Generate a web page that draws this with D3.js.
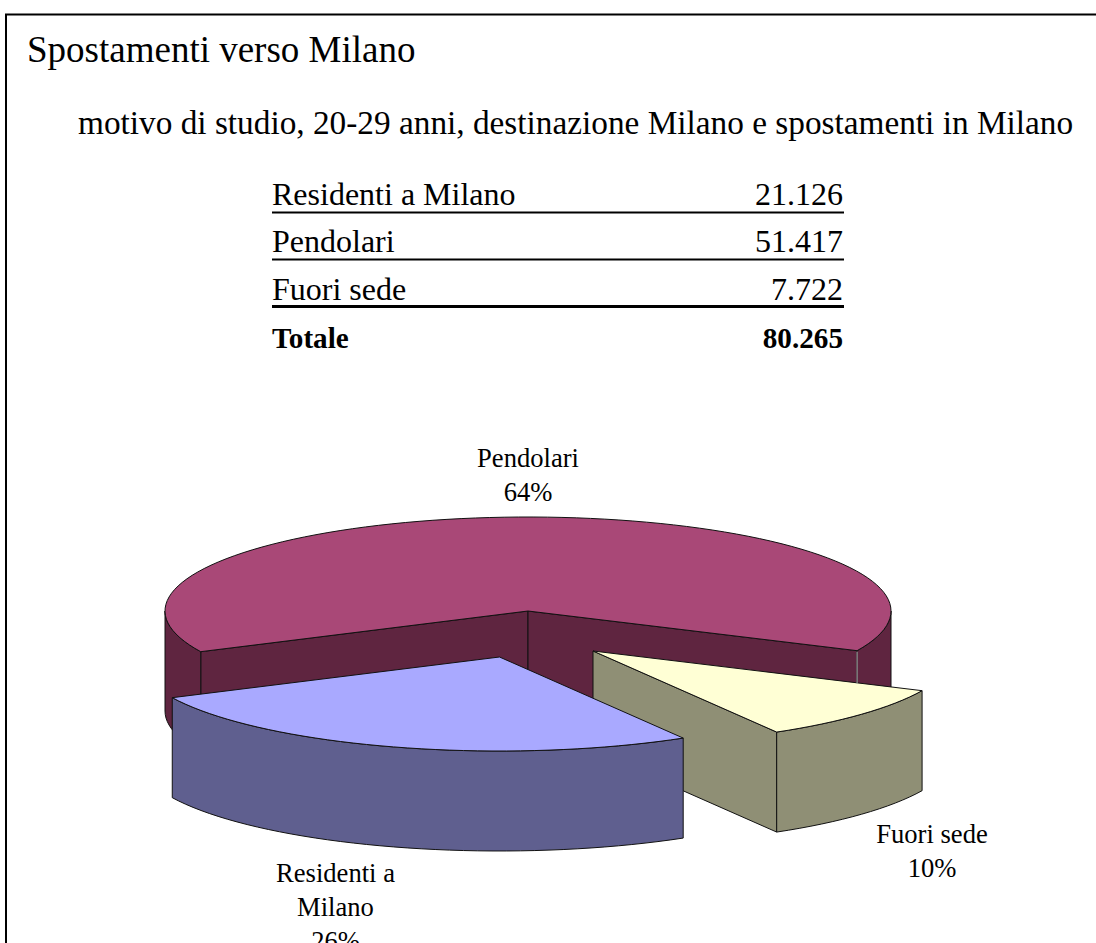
<!DOCTYPE html>
<html>
<head>
    <meta charset="UTF-8" />
    <title>Spostamenti verso Milano</title>
    <script src="https://d3js.org/d3.v7.min.js"></script>
    <style>
    html, body { margin: 0; padding: 0; background: #fff; overflow: hidden; }
    svg { display: block; }
    text { font-family: "Liberation Serif", serif; fill: #000; }
    </style>
</head>

<body>
<div id="main"></div>
<script type="text/javascript">

const titleText = "Spostamenti verso Milano"
const subtitleText = "motivo di studio, 20-29 anni, destinazione Milano e spostamenti in Milano"

const categories = ["Residenti a Milano", "Pendolari", "Fuori sede"]
const values = [21126, 51417, 7722]
const valueLabels = ["21.126", "51.417", "7.722"]
const totalLabel = "Totale"
const totalValue = "80.265"

const topColours = ["#a9a9ff", "#a94877", "#ffffd5"]
const sideColours = ["#5f5f8f", "#5f2540", "#8f8f75"]

const width = 1096
const height = 943

// pie geometry
const rx = 363
const ry = 94
const depth = 100
const startAngle = 149.6 * Math.PI / 180
const centres = [[499.5, 657], [528, 611], [593, 651]]

const svg = d3.select("#main").append("svg")
  .attr("width", width)
  .attr("height", height)

// frame, no right side in the picture
svg.append("path")
  .attr("d", "M6," + height + "V14.5H" + width)
  .attr("fill", "none")
  .attr("stroke", "#000")
  .attr("stroke-width", 2)

svg.append("text").attr("x", 27).attr("y", 61.5).attr("font-size", 37).text(titleText)
svg.append("text").attr("x", 78).attr("y", 133.5).attr("font-size", 33.3).text(subtitleText)

// table
const rowY = d3.scalePoint().domain(d3.range(4)).range([204.5, 348])
const tableLeft = 272
const tableRight = 843
const tableFont = 32
const lineY = [212.5, 259.5, 306.5]

categories.forEach((c, i) => {
  svg.append("text").attr("x", tableLeft).attr("y", rowY(i)).attr("font-size", tableFont).text(c)
  svg.append("text").attr("x", tableRight).attr("y", rowY(i)).attr("font-size", tableFont)
    .attr("text-anchor", "end").text(valueLabels[i])
  svg.append("line")
    .attr("x1", tableLeft).attr("x2", tableRight + 1)
    .attr("y1", lineY[i]).attr("y2", lineY[i])
    .attr("stroke", "#000")
    .attr("stroke-width", i == 2 ? 3 : 2)
})
svg.append("text").attr("x", tableLeft).attr("y", rowY(3)).attr("font-size", 29.2)
  .attr("font-weight", "bold").text(totalLabel)
svg.append("text").attr("x", tableRight).attr("y", rowY(3)).attr("font-size", 29.2)
  .attr("font-weight", "bold").attr("text-anchor", "end").text(totalValue)

// 3d pie
const pie = d3.pie().sort(null).startAngle(startAngle).endAngle(startAngle + 2 * Math.PI)
const slices = pie(values)

const pt = (c, a, r, dy) => [c[0] + r * rx * Math.sin(a), c[1] + dy - r * ry * Math.cos(a)]
const line = d3.line()

function arcPoints(c, a0, a1, dy) {
  const n = Math.max(2, Math.ceil(Math.abs(a1 - a0) / 0.04))
  return d3.range(n + 1).map(i => pt(c, a0 + (a1 - a0) * i / n, 1, dy))
}

// the parts of an arc that face the viewer
function frontRanges(a0, a1) {
  const out = []
  for (let k = -1; k <= 2; k++) {
    const lo = Math.max(a0, Math.PI / 2 + 2 * Math.PI * k)
    const hi = Math.min(a1, 3 * Math.PI / 2 + 2 * Math.PI * k)
    if (lo < hi) out.push([lo, hi])
  }
  return out
}

function drawWall(a, c, i) {
  const p = pt(c, a, 1, 0)
  svg.append("path")
    .attr("d", line([c, p, [p[0], p[1] + depth], [c[0], c[1] + depth]]) + "Z")
    .attr("fill", sideColours[i])
    .attr("stroke", "#111")
    .attr("stroke-width", 1)
}

// back slice first, exploded ones on top of it
const drawOrder = [1, 2, 0]
drawOrder.forEach(i => {
  const s = slices[i]
  const c = centres[i]
  if (Math.sin(s.startAngle) < 0) drawWall(s.startAngle, c, i)
  if (Math.sin(s.endAngle) > 0) drawWall(s.endAngle, c, i)

  frontRanges(s.startAngle, s.endAngle).forEach(r => {
    const top = arcPoints(c, r[0], r[1], 0)
    const bottom = arcPoints(c, r[1], r[0], depth)
    svg.append("path")
      .attr("d", line(top.concat(bottom)) + "Z")
      .attr("fill", sideColours[i])
      .attr("stroke", "#111")
      .attr("stroke-width", 1)
  })

  svg.append("path")
    .attr("d", line([c].concat(arcPoints(c, s.startAngle, s.endAngle, 0))) + "Z")
    .attr("fill", topColours[i])
    .attr("stroke", "#111")
    .attr("stroke-width", 1)
})

// the right edge of the back slice reads lighter in the picture
const backEdge = pt(centres[1], slices[1].endAngle, 1, 0)
svg.append("line")
  .attr("x1", backEdge[0]).attr("x2", backEdge[0])
  .attr("y1", backEdge[1] + 1).attr("y2", backEdge[1] + 33)
  .attr("stroke", "#b5b5b5")
  .attr("stroke-width", 1)

// slice labels
const pct = values.map(v => Math.round(v / d3.sum(values) * 100) + "%")
const labelLines = [["Residenti a", "Milano", pct[0]], ["Pendolari", pct[1]], ["Fuori sede", pct[2]]]
const labelX = [335.5, 528, 932]
const labelY = [882, 467, 842.5]
const labelStep = [34, 34, 34]

labelLines.forEach((lines, i) => {
  lines.forEach((t, j) => {
    svg.append("text")
      .attr("x", labelX[i])
      .attr("y", labelY[i] + j * labelStep[i])
      .attr("font-size", 26.6)
      .attr("text-anchor", "middle")
      .text(t)
  })
})

</script>
</body>
</html>
